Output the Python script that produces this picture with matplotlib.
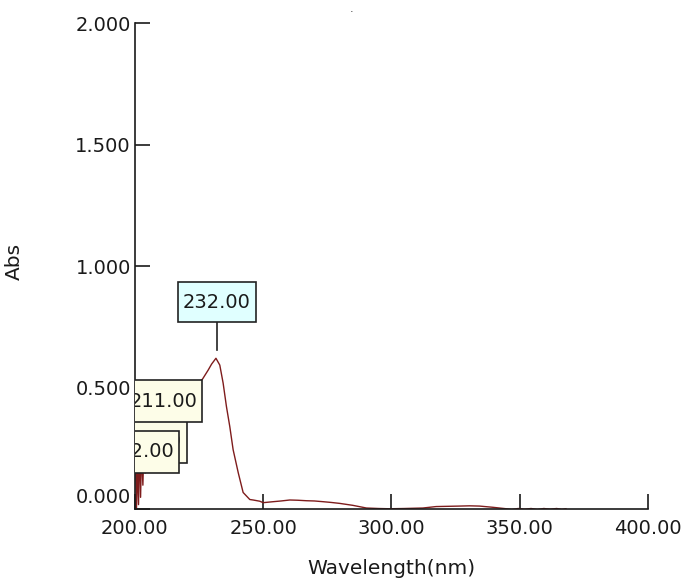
import numpy as np
import matplotlib
matplotlib.use("Agg")
import matplotlib.pyplot as plt
from matplotlib.patches import Rectangle
from matplotlib.transforms import ScaledTranslation

# Spectrum (wavelength in nm, absorbance)
wavelength = [200.2, 200.6, 201.0, 201.4, 201.8, 202.2, 202.6, 203.1, 203.6, 204.0, 204.5,
              205.5, 207.0, 209.0, 211.0, 213.0, 215.0, 218.0, 221.0, 224.0, 226.4,
              228.6, 229.9, 231.6, 233.1, 234.4, 235.7, 237.0, 238.3, 240.3, 242.2,
              244.8, 246.1, 248.7, 250.0, 253.9, 257.0, 260.4, 263.5, 266.9, 270.0,
              273.4, 276.5, 279.9, 285.0, 290.3, 295.0, 299.3, 305.0, 312.3, 317.5,
              322.0, 326.6, 330.5, 334.4, 339.6, 344.8, 347.0, 349.5, 352.0, 354.5,
              357.0, 359.5, 362.0, 364.5, 366.5, 368.1]
absorbance = [0.25, 0.00, 0.20, 0.02, 0.30, 0.05, 0.25, 0.10, 0.30, 0.15, 0.35,
              0.40, 0.44, 0.47, 0.48, 0.47, 0.46, 0.47, 0.49, 0.51, 0.537,
              0.574, 0.598, 0.622, 0.594, 0.520, 0.423, 0.341, 0.246, 0.151, 0.070,
              0.041, 0.039, 0.034, 0.028, 0.032, 0.035, 0.039, 0.038, 0.036, 0.035,
              0.032, 0.029, 0.025, 0.017, 0.006, 0.004, 0.003, 0.004, 0.006, 0.012,
              0.013, 0.014, 0.015, 0.014, 0.009, 0.003, 0.000, 0.004, 0.001, 0.004,
              0.000, 0.004, 0.001, 0.004, 0.000, 0.003]

# Peak labels
peak_wl = [232.00, 211.00, 205.00, 202.00]
peak_label_y = [0.853, 0.446, 0.278, 0.237]
peak_colors = ["#e0ffff", "#fdfde8", "#fdfde8", "#fdfde8"]
peak_order = [9, 8, 6, 7]  # which label is drawn over which

x_ticks = [200, 250, 300, 350, 400]
y_ticks = [0.0, 0.5, 1.0, 1.5, 2.0]

plt.rcParams["font.family"] = ["DejaVu Sans"]
fig = plt.figure(figsize=(6.87, 5.81), dpi=100)
ax = fig.add_axes([0.1964, 0.1231, 0.7464, 0.8368])

ax.plot(wavelength, absorbance, color="#7e1c1c", lw=1.0, zorder=2)

box_w, box_h = 0.78, 0.42  # inches
for i in range(len(peak_wl)):
    h = 0.40 if i == 0 else box_h
    tr = fig.dpi_scale_trans + ScaledTranslation(peak_wl[i], peak_label_y[i], ax.transData)
    ax.add_patch(Rectangle((-box_w / 2, -h / 2), box_w, h, transform=tr,
                           fc=peak_colors[i], ec="#222222", lw=1.2, zorder=peak_order[i]))
    ax.text(peak_wl[i], peak_label_y[i], f"{peak_wl[i]:.2f}", ha="center", va="center",
            fontsize=14, color="#1a1a1a", clip_on=True, zorder=peak_order[i] + 0.5)
# leader line for the main peak
ax.plot([peak_wl[0], peak_wl[0]], [0.656, 0.771], color="#222222", lw=1.2, zorder=3)

ax.set_xlim(200, 400)
ax.set_ylim(0, 2.0)
ax.set_xticks(x_ticks)
ax.set_yticks(y_ticks)
ax.set_xticklabels([f"{v:.2f}" for v in x_ticks])
ax.set_yticklabels([f"{v:.3f}" for v in y_ticks])
ax.tick_params(axis="both", direction="in", length=11, width=1.2, labelsize=14, colors="#1a1a1a")
ax.tick_params(axis="x", pad=7)
ax.tick_params(axis="y", pad=3)
for s in ["top", "right"]:
    ax.spines[s].set_visible(False)
for s in ["left", "bottom"]:
    ax.spines[s].set_linewidth(1.2)
    ax.spines[s].set_color("#1a1a1a")

# lowest y label sits a little above the axis
lab0 = ax.yaxis.get_major_ticks()[0].label1
lab0.set_transform(lab0.get_transform() + ScaledTranslation(0, 14 / 100, fig.dpi_scale_trans))

ax.set_xlabel("Wavelength(nm)", fontsize=14.5, color="#1a1a1a", labelpad=15)
ax.set_ylabel("Abs", fontsize=14.5, color="#1a1a1a")
ax.yaxis.set_label_coords(-0.216, 0.51)

fig.text(0.512, 0.985, ".", fontsize=8, ha="center", va="center", color="#333333")

fig.savefig("out.png", dpi=100)
